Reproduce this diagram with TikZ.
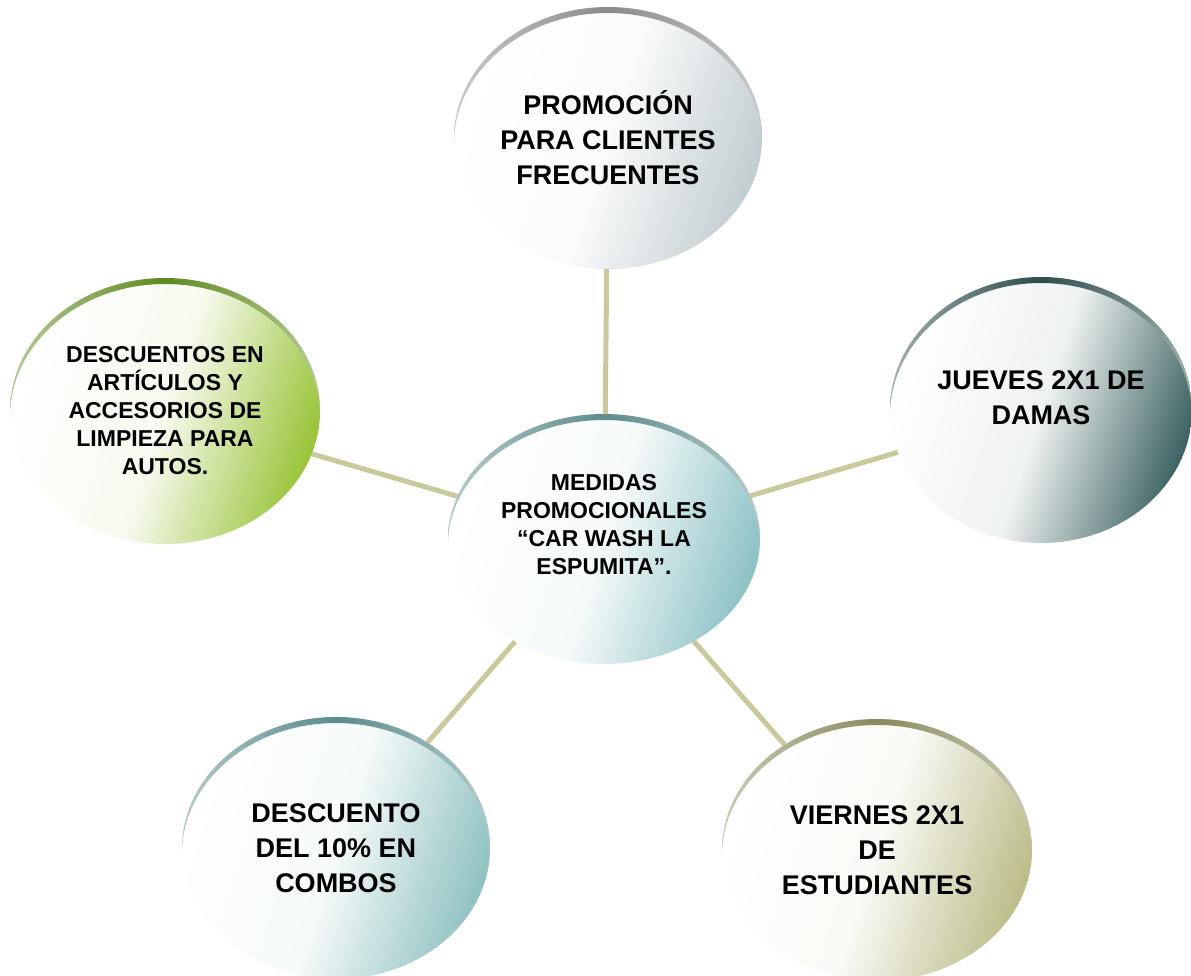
\documentclass[tikz,border=0pt]{standalone}
\usepackage{fontspec}
\setmainfont{Liberation Sans}
\usetikzlibrary{shapes.geometric,calc}
\definecolor{linkc}{HTML}{C9C99B}
\definecolor{fillgray}{HTML}{C3CED2}
\definecolor{rimgray}{HTML}{8A8A8A}
\definecolor{fillgreen}{HTML}{9BC43A}
\definecolor{rimgreen}{HTML}{5E8A1E}
\definecolor{filldark}{HTML}{3F6464}
\definecolor{rimdark}{HTML}{2E4D4D}
\definecolor{fillteal}{HTML}{8FC3C6}
\definecolor{rimteal}{HTML}{5F8C8C}
\definecolor{fillsea}{HTML}{92C2C2}
\definecolor{rimsea}{HTML}{5A8A8A}
\definecolor{fillolive}{HTML}{BDBD8C}
\definecolor{rimolive}{HTML}{8A8A5E}

\tikzset{
  bubble/.style 2 args={ellipse, minimum width=308pt, minimum height=262pt,
    inner sep=0pt, outer sep=0pt, align=center,
    top color=white, bottom color=#1, middle color=#1!8, shading angle=72,
    font=\bfseries\fontsize{27}{35}\selectfont,
    path picture={
      \shade[even odd rule, left color=#2!45, right color=#2!45, middle color=#2]
        let \p1=(path picture bounding box.north east),
            \p2=(path picture bounding box.south west) in
        (\p2) rectangle (\p1)
        ([yshift=-6pt]path picture bounding box.center)
        ellipse ({(\x1-\x2)/2} and {(\y1-\y2)/2});
    }},
  smalltext/.style={font=\bfseries\fontsize{23}{28}\selectfont},
  link/.style={draw=linkc, line width=5pt}
}

\begin{document}
\begin{tikzpicture}[x=1pt,y=-1pt]
\useasboundingbox (0,0) rectangle (1191,976);
\node[bubble={fillgray}{rimgray}] (promo) at (608,138) {PROMOCIÓN\\PARA CLIENTES\\FRECUENTES};
\node[bubble={fillgreen}{rimgreen}, smalltext, minimum width=310pt, minimum height=266pt] (desc) at (165,411) {DESCUENTOS EN\\ARTÍCULOS Y\\ACCESORIOS DE\\LIMPIEZA PARA\\AUTOS.};
\node[bubble={filldark}{rimdark}, minimum width=302pt, minimum height=266pt] (jueves) at (1041,410) {JUEVES 2X1 DE\\DAMAS\\[-10pt]};
\node[bubble={fillteal}{rimteal}, smalltext, minimum width=312pt, minimum height=250pt] (medidas) at (604,539) {MEDIDAS\\PROMOCIONALES\\“CAR WASH LA\\ESPUMITA”.\\[2pt]};
\node[bubble={fillsea}{rimsea}] (combos) at (336,848) {DESCUENTO\\DEL 10\% EN\\COMBOS};
\node[bubble={fillolive}{rimolive}, minimum width=310pt] (viernes) at (877,850) {VIERNES 2X1\\DE\\ESTUDIANTES};
\draw[link] (medidas) -- (promo);
\draw[link] (medidas) -- (desc);
\draw[link] (medidas) -- (jueves);
\draw[link] (medidas) -- (combos);
\draw[link] (medidas) -- (viernes);
\end{tikzpicture}
\end{document}
